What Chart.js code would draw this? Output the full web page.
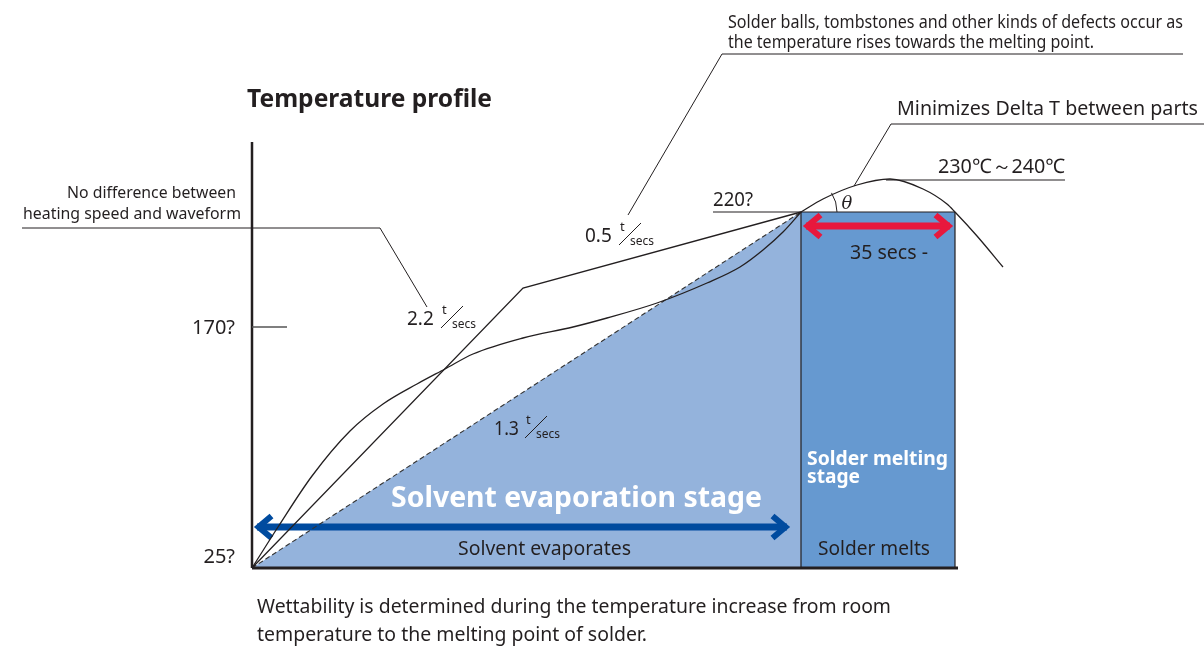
<!DOCTYPE html>
<html>
<head>
<meta charset="utf-8">
<script src="https://cdn.jsdelivr.net/npm/chart.js@4.4.1/dist/chart.umd.min.js"></script>
<style>
  html, body { margin: 0; padding: 0; background: #fff; overflow: hidden; }
  #wrap { position: relative; width: 1204px; height: 647px; }
</style>
</head>
<body>
<div id="wrap"><canvas id="chart"></canvas></div>
<script>
// time axis (schematic units) and temperature axis (schematic units)
const fastX = [0, 271, 549];            // 2.2 t/secs then 0.5 t/secs
const fastY = [0, 280, 356];
const sX = [0, 26, 60, 98, 131, 165, 193, 221, 271, 321, 355, 405, 455, 488, 511, 531, 549];
const sY = [0, 41, 92, 137, 164, 184, 199, 214, 230, 241, 250, 265, 285, 301, 318, 336, 356];
const slowX = [0, 549];                 // 1.3 t/secs
const slowY = [0, 356];
const peakX = [549, 571, 605, 638, 671, 695, 703, 725, 751];
const peakY = [356, 369, 383, 389, 379, 364, 356, 332, 301];
const stageEdges = [0, 549, 703];       // start, melting point, +35 secs
const meltLevel = 356;                  // 220?
const peakLevel = 388;                  // 230~240
const yTickValues = [0, 241];
const yTickLabels = ['25?', '170?'];
const xAxisEnd = 706;
const xRange = [0, 760];
const yRange = [0, 426];

const ink = '#231f20';
const pts = (xs, ys) => xs.map((x, i) => ({ x: x, y: ys[i] }));

function txt(ctx, s, x, y, font, color, maxW, align) {
  ctx.font = font;
  ctx.fillStyle = color;
  ctx.textAlign = align || 'left';
  ctx.textBaseline = 'alphabetic';
  ctx.fillText(s, x, y, maxW);
}

function poly(ctx, list, w) {
  ctx.beginPath();
  list.forEach((p, i) => (i ? ctx.lineTo(p[0], p[1]) : ctx.moveTo(p[0], p[1])));
  ctx.lineWidth = w || 1;
  ctx.strokeStyle = ink;
  ctx.stroke();
}

function frac(ctx, num, x, y, w) {
  txt(ctx, num, x, y, '19px "Noto Sans"', ink, w);
  const e = x + w;
  txt(ctx, 't', e + 7, y - 11, '13px "Noto Sans"', ink);
  poly(ctx, [[e + 6, y + 3], [e + 28, y - 19]], 1);
  txt(ctx, 'secs', e + 17, y + 3, '13px "Noto Sans"', ink, 24);
}

function dblArrow(ctx, x1, x2, y, color) {
  const w = 6, ax = 13, ay = 11, o = 4.5;
  ctx.save();
  ctx.strokeStyle = color;
  ctx.lineJoin = 'miter';
  ctx.miterLimit = 10;
  ctx.lineWidth = 7;
  ctx.beginPath();
  ctx.moveTo(x1 + 3, y); ctx.lineTo(x2 - 3, y);
  ctx.stroke();
  ctx.lineWidth = w;
  ctx.beginPath();
  ctx.moveTo(x1 + o + ax, y - ay); ctx.lineTo(x1 + o, y); ctx.lineTo(x1 + o + ax, y + ay);
  ctx.moveTo(x2 - o - ax, y - ay); ctx.lineTo(x2 - o, y); ctx.lineTo(x2 - o - ax, y + ay);
  ctx.stroke();
  ctx.restore();
}

const overlay = {
  id: 'overlay',
  afterDatasetDraw(chart, args) {
    if (chart.data.datasets[args.index].label !== 'melt fill') return;
    const ctx = chart.ctx, X = chart.scales.x, Y = chart.scales.y;
    ctx.save();
    dblArrow(ctx, X.getPixelForValue(stageEdges[0]) + 2, X.getPixelForValue(stageEdges[1]) - 11,
      Y.getPixelForValue(41), '#004b9f');
    dblArrow(ctx, X.getPixelForValue(stageEdges[1]) + 2, X.getPixelForValue(stageEdges[2]) - 2,
      Y.getPixelForValue(342), '#e8183d');
    ctx.restore();
  },
  afterDatasetsDraw(chart) {
    const ctx = chart.ctx, X = chart.scales.x, Y = chart.scales.y;
    const px = v => X.getPixelForValue(v), py = v => Y.getPixelForValue(v);
    ctx.save();
    // axes
    poly(ctx, [[px(0), py(yRange[1])], [px(0), py(0)]], 2.5);
    poly(ctx, [[px(0), py(0)], [px(xAxisEnd), py(0)]], 3);
    ctx.strokeStyle = '#555';
    ctx.lineWidth = 1.5;
    ctx.beginPath();
    ctx.moveTo(px(0), py(yTickValues[1])); ctx.lineTo(px(35), py(yTickValues[1]));
    ctx.stroke();
    txt(ctx, yTickLabels[0], px(-17), py(5), '20px "Noto Sans"', ink, 34, 'right');
    txt(ctx, yTickLabels[1], px(-17), py(yTickValues[1] - 7), '20px "Noto Sans"', ink, 44, 'right');

    // title and caption
    txt(ctx, 'Temperature profile', px(-5), py(461), 'bold 25px "Noto Sans"', ink, 245);
    txt(ctx, 'Wettability is determined during the temperature increase from room', px(5), py(-45), '20px "Noto Sans"', ink, 634);
    txt(ctx, 'temperature to the melting point of solder.', px(5), py(-73), '20px "Noto Sans"', ink, 390);

    // notes and leaders
    txt(ctx, 'Solder balls, tombstones and other kinds of defects occur as', px(476), py(540), '18px "Noto Sans"', ink, 455);
    txt(ctx, 'the temperature rises towards the melting point.', px(476), py(520), '18px "Noto Sans"', ink, 366);
    poly(ctx, [[px(931), py(514)], [px(470), py(514)], [px(376), py(353)]], 1);

    txt(ctx, 'Minimizes Delta T between parts', px(645), py(453), '20px "Noto Sans"', ink, 301);
    poly(ctx, [[px(952), py(444)], [px(639), py(444)], [px(602), py(382)]], 1);

    txt(ctx, '230\u2103\uFF5E240\u2103', px(686), py(peakLevel + 7), '20px "Noto Sans"', ink, 127);
    poly(ctx, [[px(634), py(peakLevel)], [px(813), py(peakLevel)]], 1.2);

    txt(ctx, '220?', px(461), py(meltLevel + 6), '19px "Noto Sans"', ink, 40);

    txt(ctx, 'No difference between', px(-185), py(370), '16px "Noto Sans"', ink, 169);
    txt(ctx, 'heating speed and waveform', px(-229), py(349), '16px "Noto Sans"', ink, 218);
    poly(ctx, [[px(-230), py(340)], [px(128), py(340)], [px(175), py(261)]], 1);

    frac(ctx, '2.2', px(155), py(243), 28);
    frac(ctx, '0.5', px(333), py(326), 28);
    frac(ctx, '1.3', px(242), py(133), 25);

    // angle mark
    ctx.beginPath();
    ctx.arc(px(stageEdges[1]), py(meltLevel), 36, -0.56, 0);
    ctx.lineWidth = 1;
    ctx.strokeStyle = ink;
    ctx.stroke();
    txt(ctx, '\u03B8', px(595), py(359), 'italic 18px "DejaVu Serif"', ink, 12, 'center');

    // stage labels
    txt(ctx, 'Solvent evaporation stage', px(139), py(61), 'bold 29px "Noto Sans"', '#ffffff', 371);
    txt(ctx, 'Solder melting', px(555), py(103), 'bold 20px "Noto Sans"', '#ffffff', 141);
    txt(ctx, 'stage', px(555), py(85), 'bold 20px "Noto Sans"', '#ffffff', 53);
    txt(ctx, 'Solvent evaporates', px(206), py(13), '20px "Noto Sans"', ink, 173);
    txt(ctx, 'Solder melts', px(566), py(13), '20px "Noto Sans"', ink, 112);
    txt(ctx, '35 secs -', px(598), py(309), '20px "Noto Sans"', ink, 78);
    ctx.restore();
  }
};

const lineBase = { borderColor: ink, borderWidth: 1.3, pointRadius: 0, fill: false, order: 1 };

new Chart(document.getElementById('chart'), {
  type: 'line',
  data: {
    datasets: [
      Object.assign({}, lineBase, { label: 'fast', data: pts(fastX, fastY), tension: 0 }),
      Object.assign({}, lineBase, { label: 'S curve', data: pts(sX, sY), cubicInterpolationMode: 'monotone' }),
      Object.assign({}, lineBase, { label: 'reflow', data: pts(peakX, peakY), cubicInterpolationMode: 'monotone', clip: false }),
      Object.assign({}, lineBase, { label: '1.3', data: pts(slowX, slowY), borderWidth: 1.1, borderDash: [5, 3], borderColor: '#333', order: 2 }),
      Object.assign({}, lineBase, { label: '220 line', data: pts([461, stageEdges[2]], [meltLevel, meltLevel]), borderWidth: 1.2 }),
      Object.assign({}, lineBase, { label: 'edge 1', data: pts([stageEdges[1], stageEdges[1]], [0, meltLevel]), borderWidth: 1.2 }),
      Object.assign({}, lineBase, { label: 'edge 2', data: pts([stageEdges[2], stageEdges[2]], [0, meltLevel]), borderWidth: 1.2 }),
      { label: 'evap fill', data: pts(slowX, slowY), fill: 'origin', backgroundColor: '#94b3dc',
        borderWidth: 0, pointRadius: 0, order: 10 },
      { label: 'melt fill', data: pts([stageEdges[1], stageEdges[2]], [meltLevel, meltLevel]), fill: 'origin',
        backgroundColor: '#6699d0', borderWidth: 0, pointRadius: 0, order: 9 }
    ]
  },
  options: {
    responsive: true,
    maintainAspectRatio: false,
    animation: false,
    events: [],
    layout: { padding: { left: 252, right: 192, top: 142, bottom: 79 } },
    plugins: { legend: { display: false }, tooltip: { enabled: false }, title: { display: false } },
    scales: {
      x: { type: 'linear', min: xRange[0], max: xRange[1], display: false },
      y: { type: 'linear', min: yRange[0], max: yRange[1], display: false }
    }
  },
  plugins: [overlay]
});
</script>
</body>
</html>
